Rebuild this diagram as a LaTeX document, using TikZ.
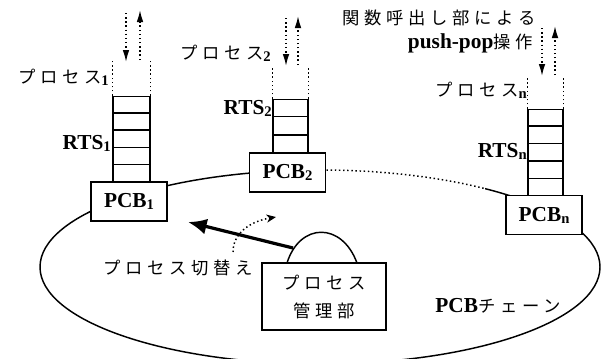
\documentclass[tikz,border=0pt]{standalone}
\usepackage{fontspec}
\setmainfont{Liberation Serif}
\newfontfamily\jpf[LetterSpace=27]{Noto Sans CJK JP}
\usetikzlibrary{arrows.meta,calc}
\newcommand{\jp}[1]{{\fontsize{13}{17}\selectfont\jpf\mdseries #1}}
\newcommand{\mysub}[1]{\raisebox{-0.2ex}{\fontsize{11}{11}\selectfont #1}}
\tikzset{
  solidline/.style={line width=1.1pt},
  dotline/.style={line width=1.1pt, dash pattern=on 1.1pt off 2pt},
  pcbbox/.style={draw, fill=white, line width=1.1pt, inner sep=0pt, minimum width=57pt, minimum height=29pt},
  stackbox/.style={draw, fill=white, line width=1.1pt, inner sep=0pt, anchor=south},
  mgrbox/.style={draw, fill=white, line width=1.1pt, inner sep=0pt, minimum width=93pt, minimum height=50pt, align=center},
  pparrow/.style={dotline, -{Latex[length=9pt,width=5pt]}},
  lbl/.style={inner sep=0pt, anchor=east},
}
\begin{document}
\begin{tikzpicture}[x=0.75pt,y=-0.75pt,font=\fontsize{16}{19}\selectfont\bfseries]
\useasboundingbox (0,0) rectangle (602,358);
% PCB chain ring
\begin{scope}
  \clip (0,0) rectangle (326,358);
  \draw[solidline] (320,267) ellipse [x radius=210pt, y radius=72.75pt];
\end{scope}
\begin{scope}
  \clip (485,0) rectangle (602,358);
  \draw[solidline] (320,267) ellipse [x radius=210pt, y radius=72.75pt];
\end{scope}
\begin{scope}
  \clip (326,245) rectangle (485,358);
  \draw[solidline] (320,267) ellipse [x radius=210pt, y radius=72.75pt];
\end{scope}
\begin{scope}
  \clip (326,0) rectangle (485,245);
  \draw[dotline] (320,267) ellipse [x radius=210pt, y radius=72.75pt];
\end{scope}

% PCB boxes
\node[pcbbox] (pcb1) at (129,201.5) {PCB\mysub{1}};
\node[pcbbox] (pcb2) at (287.5,172.5) {PCB\mysub{2}};
\node[pcbbox] (pcbn) at (544,215) {PCB\mysub{n}};

% stacks
\node[stackbox, minimum width=27.75pt, minimum height=63.75pt] (s1) at (131.5,182) {};
\node[stackbox, minimum width=26.25pt, minimum height=39.75pt] (s2) at (290.5,153) {};
\node[stackbox, minimum width=26.25pt, minimum height=64.5pt] (sn) at (545.5,196) {};
\foreach \k in {1,...,4}{
  \draw[solidline] ($(s1.north west)!\k/5!(s1.south west)$) -- ($(s1.north east)!\k/5!(s1.south east)$);
  \draw[solidline] ($(sn.north west)!\k/5!(sn.south west)$) -- ($(sn.north east)!\k/5!(sn.south east)$);
}
\foreach \k in {1,2}{
  \draw[solidline] ($(s2.north west)!\k/3!(s2.south west)$) -- ($(s2.north east)!\k/3!(s2.south east)$);
}

% dotted guides above stacks
\draw[dotline] (s1.north west) -- ++(0,-35);
\draw[dotline] (s1.north east) -- ++(0,-35);
\draw[dotline] (s2.north west) -- ++(0,-33);
\draw[dotline] (s2.north east) -- ++(0,-33);
\draw[dotline] (sn.north west) -- ++(0,-33);
\draw[dotline] (sn.north east) -- ++(0,-33);

% push/pop arrows
\coordinate (d1a) at (126,13);  \coordinate (d1b) at (126,62);
\coordinate (u1a) at (140,60);  \coordinate (u1b) at (140,10);
\coordinate (d2a) at (286,18);  \coordinate (d2b) at (286,66);
\coordinate (u2a) at (298,65);  \coordinate (u2b) at (298,16);
\coordinate (dna) at (542,28);  \coordinate (dnb) at (542,76);
\coordinate (una) at (555,75);  \coordinate (unb) at (555,26);
\draw[pparrow] (d1a) -- (d1b);
\draw[pparrow] (u1a) -- (u1b);
\draw[pparrow] (d2a) -- (d2b);
\draw[pparrow] (u2a) -- (u2b);
\draw[pparrow] (dna) -- (dnb);
\draw[pparrow] (una) -- (unb);

% labels
\node[lbl] (lp1) at (109,77) {\jp{プロセス}\mysub{1}};
\node[lbl] (lr1) at (111,143) {RTS\mysub{1}};
\node[lbl] (lp2) at (271,53) {\jp{プロセス}\mysub{2}};
\node[lbl] (lr2) at (272,108) {RTS\mysub{2}};
\node[lbl] (lcall) at (536,18) {\jp{関数呼出し部による}};
\node[lbl] (lpp) at (533,43) {push-pop\jp{操作}};
\node[lbl] (lpn) at (527,90) {\jp{プロセス}\mysub{n}};
\node[lbl] (lrn) at (527,151) {RTS\mysub{n}};

% process management
\draw[solidline] (287,263) .. controls (300,222) and (342,222) .. (357,263);
\node[mgrbox] (mgr) at (324,296.5) {\jp{プロセス}\\[2pt]\jp{管理部}};
\coordinate (swtail) at (293,248);
\coordinate (swtip) at (188,222);
\draw[line width=2.4pt, -{Latex[length=14pt,width=12pt]}] (swtail) -- (swtip);
\coordinate (dta) at (233,252);
\coordinate (dtb) at (276,217);
\draw[dotline, -{Stealth[length=7pt,width=6pt,inset=2pt]}] (dta) .. controls (233,232) and (252,221) .. (dtb);
\node[inner sep=0pt] (lsw) at (178,268) {\jp{プロセス切替え}};
\node[inner sep=0pt] (lch) at (498,306) {PCB\jp{チェーン}};
\end{tikzpicture}
\end{document}
